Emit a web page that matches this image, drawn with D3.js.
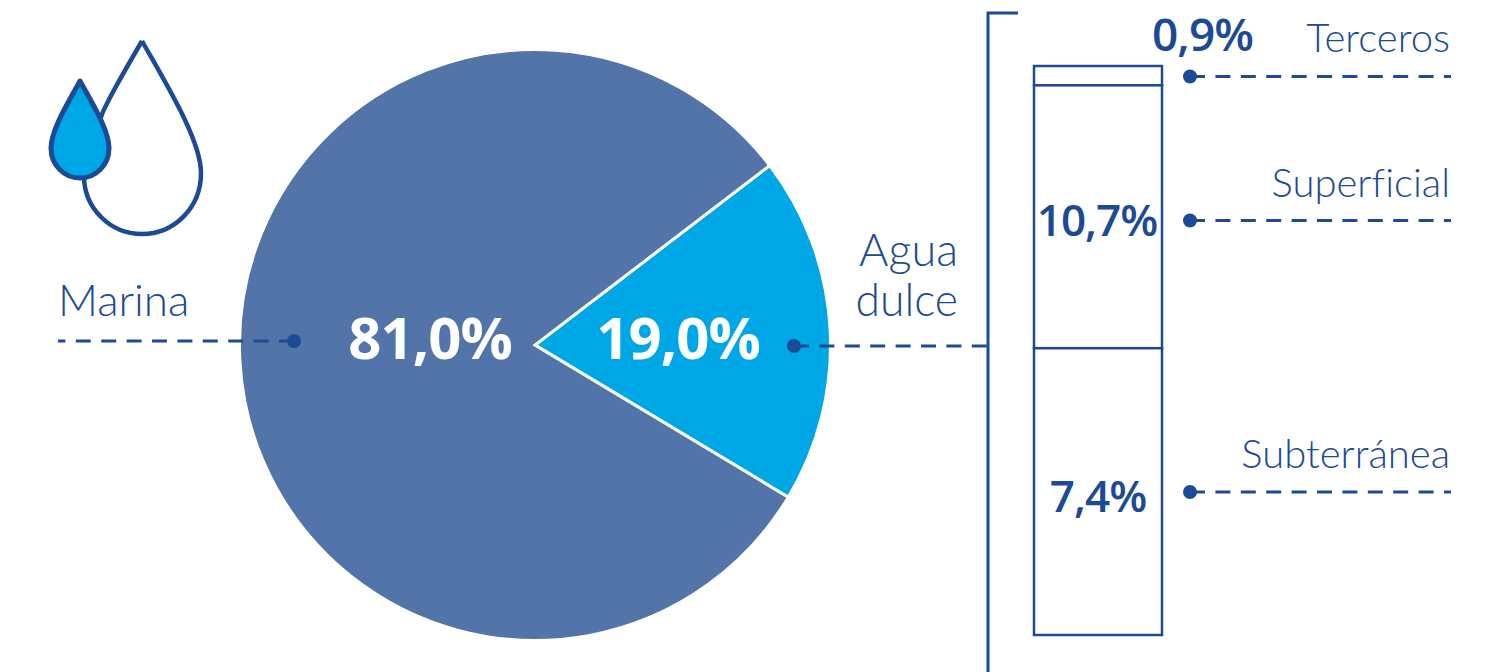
<!DOCTYPE html>
<html>
<head>
<meta charset="utf-8">
<script src="https://cdn.jsdelivr.net/npm/d3@7"></script>
<style>
body { margin: 0; background: #fff; }
svg { display: block; }
text { fill: #1c4a94; font-family: "Open Sans", sans-serif; }
.name { font-family: Lato, sans-serif; font-weight: 300; font-size: 40px; font-variant-ligatures: none; }
.value { font-weight: 600; letter-spacing: -1px; }
</style>
</head>
<body>
<svg id="chart" width="1507" height="672"></svg>
<script>
// main split
var pieNames = ["Agua dulce", "Marina"];
var pieValues = [19.0, 81.0];
var pieLabels = ["19,0%", "81,0%"];
var pieColors = ["#00a7e6", "#5374a9"];

// fresh water breakdown, top to bottom
var barNames = ["Terceros", "Superficial", "Subterránea"];
var barLabels = ["0,9%", "10,7%", "7,4%"];
// share of the bar height as drawn in the picture (not the same as the labels)
var barShares = [3.4, 46.2, 50.4];

var blue = "#1c4a94";
var svg = d3.select("#chart");

// PIE
var cx = 535, cy = 345, radius = 295.5;
var pie = d3.pie().sort(null)
    .startAngle(52.6 * Math.PI / 180)
    .endAngle((52.6 + 360) * Math.PI / 180);
var arc = d3.arc().innerRadius(0).outerRadius(radius);

svg.append("g")
    .attr("transform", "translate(" + cx + "," + cy + ")")
    .selectAll("path")
    .data(pie(pieValues))
    .enter()
    .append("path")
    .attr("d", arc)
    .attr("fill", (d, i) => pieColors[i])
    .attr("stroke", "#fff")
    .attr("stroke-width", 3);

svg.selectAll(".pieLabel")
    .data(pieLabels)
    .enter()
    .append("text")
    .attr("class", "value pieLabel")
    .attr("x", (d, i) => [678, 430][i])
    .attr("y", 359)
    .attr("text-anchor", "middle")
    .style("fill", "#fff")
    .style("font-size", "58px")
    .style("font-weight", 700)
    .text(d => d);

// STACKED BAR
var y = d3.scaleLinear().domain([0, 100]).range([635, 66]);
var barLeft = 1034, barRight = 1162;
var stack = [];
var total = 0;
barShares.forEach((share, i) => {
    stack.push({ top: 100 - total, bottom: 100 - total - share, i: i });
    total += share;
});

svg.selectAll(".seg")
    .data(stack)
    .enter()
    .append("rect")
    .attr("class", "seg")
    .attr("x", barLeft)
    .attr("width", barRight - barLeft)
    .attr("y", d => y(d.top))
    .attr("height", d => y(d.bottom) - y(d.top))
    .attr("fill", "#fff")
    .attr("stroke", blue)
    .attr("stroke-width", 2.5);

svg.selectAll(".barLabel")
    .data(barLabels)
    .enter()
    .append("text")
    .attr("class", "value barLabel")
    .attr("x", (d, i) => [1202.5, 1097, 1098][i])
    .attr("y", (d, i) => [51, 236, 512][i])
    .attr("text-anchor", "middle")
    .style("font-size", (d, i) => i == 0 ? "46px" : "44px")
    .text(d => d);

// bracket
svg.append("path")
    .attr("d", "M1018,13H988V672")
    .attr("fill", "none")
    .attr("stroke", blue)
    .attr("stroke-width", 3);

// LEADERS
var leaders = [
    { x1: 294, x2: 58, y: 341 },
    { x1: 794, x2: 988, y: 346 },
    { x1: 1190, x2: 1451, y: 76.5 },
    { x1: 1190, x2: 1451, y: 220.5 },
    { x1: 1190, x2: 1451, y: 492 }
];
svg.selectAll(".leader")
    .data(leaders)
    .enter()
    .append("line")
    .attr("class", "leader")
    .attr("x1", d => d.x1)
    .attr("x2", d => d.x2)
    .attr("y1", d => d.y)
    .attr("y2", d => d.y)
    .attr("stroke", blue)
    .attr("stroke-width", 3)
    .attr("stroke-dasharray", "15 10.4");
svg.selectAll(".dot")
    .data(leaders)
    .enter()
    .append("circle")
    .attr("class", "dot")
    .attr("cx", d => d.x1)
    .attr("cy", d => d.y)
    .attr("r", 7)
    .attr("fill", blue);

// NAMES
var names = [
    { t: "Marina", x: 58, y: 316, a: "start", s: 44 },
    { t: "Agua", x: 958, y: 266, a: "end", s: 45 },
    { t: "dulce", x: 958, y: 316, a: "end", s: 44.5 },
    { t: barNames[0], x: 1450, y: 52, a: "end", s: 40 },
    { t: barNames[1], x: 1450, y: 197, a: "end", s: 40 },
    { t: barNames[2], x: 1450, y: 468, a: "end", s: 40 }
];
svg.selectAll(".name")
    .data(names)
    .enter()
    .append("text")
    .attr("class", "name")
    .attr("x", d => d.x)
    .attr("y", d => d.y)
    .attr("text-anchor", d => d.a)
    .style("font-size", d => d.s + "px")
    .text(d => d.t);

// DROPS ICON
var icon = svg.append("g")
    .attr("fill", "none")
    .attr("stroke", blue)
    .attr("stroke-linejoin", "round");
icon.append("path")
    .attr("d", "M142,41 C118,82 101,112 101,118 M142,41 C165,82 201,140 201,173 C201,208 174,234 142,234 C110,234 84,208 84,176")
    .attr("stroke-width", 4.5);
icon.append("path")
    .attr("d", "M80,81 C68,103 51,130 51,148 C51,165 64,178 80,178 C96,178 109,165 109,148 C109,130 92,103 80,81 Z")
    .attr("fill", "#00a7e6")
    .attr("stroke-width", 5);
</script>
</body>
</html>
